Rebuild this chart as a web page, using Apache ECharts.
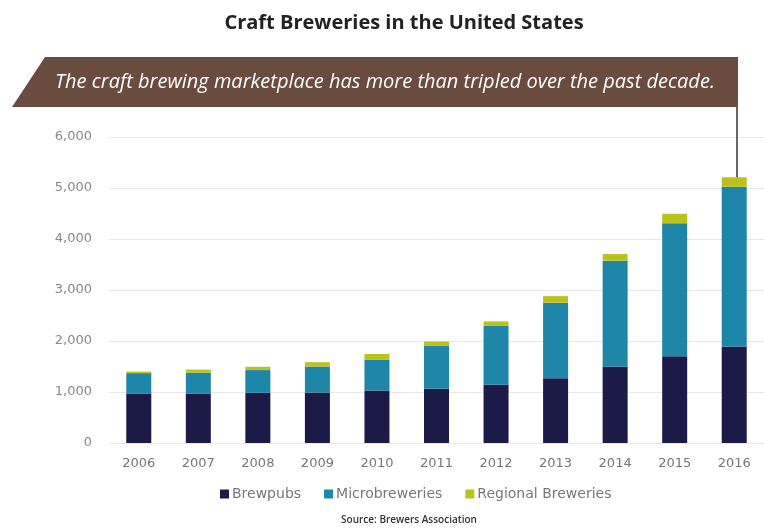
<!DOCTYPE html>
<html>
<head>
<meta charset="utf-8">
<script src="https://cdn.jsdelivr.net/npm/echarts@6/dist/echarts.min.js"></script>
<style>
html,body{margin:0;padding:0;background:#fff;}
#chart{width:764px;height:529px;}
</style>
</head>
<body>
<div id="chart"></div>
<script>
var years = ['2006','2007','2008','2009','2010','2011','2012','2013','2014','2015','2016'];
var brewpubs = [970, 970, 985, 990, 1030, 1065, 1140, 1270, 1500, 1700, 1890];
var microbreweries = [400, 410, 445, 510, 600, 840, 1155, 1480, 2075, 2610, 3135];
var regional = [30, 60, 65, 85, 115, 85, 90, 130, 130, 185, 185];
var yTicks = [0, 1000, 2000, 3000, 4000, 5000, 6000];
var titleText = 'Craft Breweries in the United States';
var bannerText = 'The craft brewing marketplace has more than tripled over the past decade.';
var sourceText = 'Source: Brewers Association';

var colors = ['#1c1a47', '#1e87a9', '#bcc21c'];
var chart = echarts.init(document.getElementById('chart'), null, {renderer:'canvas'});

var option = {
  backgroundColor: '#ffffff',
  animation: false,
  title: {
    text: titleText,
    left: 399, textAlign: 'center',
    top: 8,
    textStyle: {fontFamily: 'Open Sans', fontWeight: 'bold', fontSize: 20, color: '#222'}
  },
  legend: {
    data: ['Brewpubs','Microbreweries','Regional Breweries'],
    left: 215, top: 482,
    itemWidth: 9, itemHeight: 9, itemGap: 23,
    icon: 'rect',
    textStyle: {fontFamily: 'DejaVu Sans', fontSize: 14, color: '#777', padding: [0,0,0,-2]}
  },
  grid: {left: 109, width: 660, top: 137, height: 306},
  xAxis: {
    type: 'category', data: years,
    axisLine: {show: false}, axisTick: {show: false},
    axisLabel: {fontFamily: 'DejaVu Sans', fontSize: 13, color: '#777', margin: 14}
  },
  yAxis: {
    type: 'value', min: 0, max: 6000, interval: 1000,
    axisLine: {show: false}, axisTick: {show: false},
    splitLine: {lineStyle: {color: '#e8e8e8', width: 1}},
    axisLabel: {
      fontFamily: 'DejaVu Sans', fontSize: 13, color: '#888', margin: 17,
      formatter: function(v){ return yTicks.indexOf(v) >= 0 ? v.toLocaleString('en-US') : ''; }
    }
  },
  series: [
    {name:'Brewpubs', type:'bar', stack:'s', data: brewpubs, barWidth: 25, itemStyle:{color: colors[0]}},
    {name:'Microbreweries', type:'bar', stack:'s', data: microbreweries, barWidth: 25, itemStyle:{color: colors[1]}},
    {name:'Regional Breweries', type:'bar', stack:'s', data: regional, barWidth: 25, itemStyle:{color: colors[2]}}
  ]
};
chart.setOption(option);

var lastIdx = years.length - 1;
var total = brewpubs[lastIdx] + microbreweries[lastIdx] + regional[lastIdx];
var topPt = chart.convertToPixel({gridIndex: 0}, [years[lastIdx], total]);

chart.setOption({
  graphic: [
    {
      type: 'polygon', z: 10,
      shape: {points: [[45,57],[738,57],[738,107],[12,107]]},
      style: {fill: '#6a4b3f'}
    },
    {
      type: 'text', z: 11, x: 385, y: 82,
      style: {
        text: bannerText, fill: '#ffffff',
        font: 'italic 20px "Open Sans"', textAlign: 'center', textVerticalAlign: 'middle'
      }
    },
    {
      type: 'line', z: 9,
      shape: {x1: 737, y1: 107, x2: 737, y2: topPt[1]},
      style: {stroke: '#333', lineWidth: 1.5}
    },
    {
      type: 'text', z: 11, x: 409, y: 520,
      style: {
        text: sourceText, fill: '#333',
        font: '600 10px "Open Sans"', textAlign: 'center', textVerticalAlign: 'middle'
      }
    }
  ]
});
</script>
</body>
</html>
